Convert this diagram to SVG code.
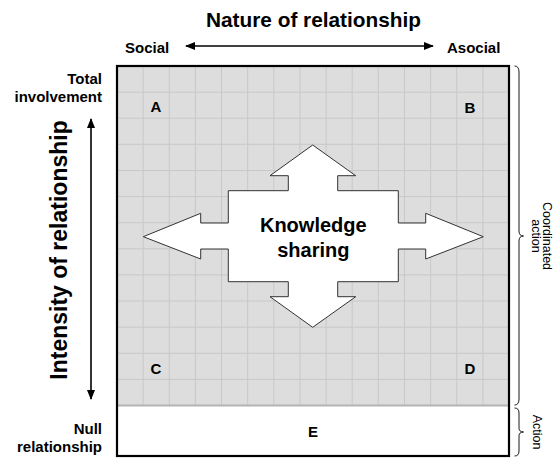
<svg xmlns="http://www.w3.org/2000/svg" width="560" height="458" viewBox="0 0 560 458">
  <style>
    text { font-family: "Liberation Sans", Arial, sans-serif; fill: #000; }
    .b { font-weight: bold; }
    .axis { stroke: #000; stroke-width: 1.6; fill: none; }
    .brace { stroke: #000; stroke-width: 0.9; fill: none; }
    .grid { stroke: #c8c8c8; stroke-width: 1; fill: none; }
    .q { font-size: 15px; font-weight: bold; text-anchor: middle; }
    .end { font-size: 15px; font-weight: bold; }
    .side { font-size: 12.5px; text-anchor: middle; }
  </style>
  <defs>
    <marker id="head" viewBox="0 0 10 8" refX="9" refY="4" markerWidth="10" markerHeight="8" markerUnits="userSpaceOnUse" orient="auto-start-reverse">
      <path d="M0,0 L10,4 L0,8 Z" fill="#000"/>
    </marker>
  </defs>

  <rect width="560" height="458" fill="#fff"/>

  <!-- matrix area: shaded grid above, plain band below -->
  <g id="matrix">
    <rect x="117" y="66" width="392" height="339.5" fill="#dddddd"/>
    <path class="grid" d="M143.1,66V405.5 M169.3,66V405.5 M195.4,66V405.5 M221.5,66V405.5 M247.7,66V405.5 M273.8,66V405.5 M299.9,66V405.5 M326.1,66V405.5 M352.2,66V405.5 M378.3,66V405.5 M404.5,66V405.5 M430.6,66V405.5 M456.7,66V405.5 M482.9,66V405.5
      M117,92.1H509 M117,118.2H509 M117,144.3H509 M117,170.5H509 M117,196.6H509 M117,222.7H509 M117,248.8H509 M117,274.9H509 M117,301H509 M117,327.2H509 M117,353.3H509 M117,379.4H509"/>
    <line x1="117" y1="405.5" x2="509" y2="405.5" stroke="#b4b4b4" stroke-width="2"/>
    <rect x="117" y="66" width="392" height="390" fill="none" stroke="#000" stroke-width="2.2"/>
  </g>

  <g id="quadrant-a"><text class="q" x="156" y="112">A</text></g>
  <g id="quadrant-b"><text class="q" x="470" y="112.5">B</text></g>
  <g id="quadrant-c"><text class="q" x="156" y="374">C</text></g>
  <g id="quadrant-d"><text class="q" x="470" y="374">D</text></g>
  <g id="zone-e"><text class="q" x="313" y="437">E</text></g>

  <!-- central four-way arrow -->
  <g id="knowledge-sharing">
    <polygon fill="#fff" stroke="#333" stroke-width="1"
      points="312.7,145 355.7,175.7 337.7,175.7 337.7,190.7 398.3,190.7 398.3,223 425.7,223 425.7,213.3 483.3,236.7 425.7,259 425.7,249 398.3,249 398.3,281.7 337.7,281.7 337.7,296.7 355.7,296.7 312.7,327.3 270,296.7 288.3,296.7 288.3,281.7 228.3,281.7 228.3,249 200.7,249 200.7,259 143.3,236.7 200.7,213.3 200.7,223 228.3,223 228.3,190.7 288.3,190.7 288.3,175.7 270,175.7"/>
    <text class="b" font-size="20" text-anchor="middle" x="313.3" y="231.7">Knowledge</text>
    <text class="b" font-size="20" text-anchor="middle" x="313.3" y="256.5">sharing</text>
  </g>

  <!-- axis titles and end labels -->
  <g id="nature-title"><text class="b" font-size="20.8" text-anchor="middle" x="313.5" y="27">Nature of relationship</text></g>
  <g id="social"><text class="end" x="125" y="52.5">Social</text></g>
  <g id="asocial"><text class="end" x="447" y="52.5">Asocial</text></g>
  <g id="intensity-title"><text class="b" font-size="23" text-anchor="middle" transform="translate(67,250) rotate(-90)">Intensity of relationship</text></g>
  <g id="total-involvement">
    <text class="end" text-anchor="end" x="102" y="84">Total</text>
    <text class="end" text-anchor="end" x="102" y="102">involvement</text>
  </g>
  <g id="null-relationship">
    <text class="end" text-anchor="end" x="102" y="434">Null</text>
    <text class="end" text-anchor="end" x="102" y="452">relationship</text>
  </g>
  <g id="coordinated-action">
    <text class="side" transform="translate(543,236) rotate(90)">Coordinated</text>
    <text class="side" transform="translate(532,236) rotate(90)">action</text>
  </g>
  <g id="action"><text class="side" transform="translate(533,432) rotate(90)">Action</text></g>

  <!-- connectors: axis arrows and braces -->
  <g id="connectors">
    <line class="axis" x1="186" y1="46" x2="433" y2="46" marker-start="url(#head)" marker-end="url(#head)"/>
    <line class="axis" x1="91" y1="119" x2="91" y2="399" marker-start="url(#head)" marker-end="url(#head)"/>
    <path class="brace" d="M514.5,66 Q519,66 519,72 L519,231 Q519,236 523.5,236 Q519,236 519,241 L519,399 Q519,405 514.5,405"/>
    <path class="brace" d="M514.5,408 Q519,408 519,413 L519,428 Q519,432 523.5,432 Q519,432 519,436 L519,451 Q519,456 514.5,456"/>
  </g>
</svg>
